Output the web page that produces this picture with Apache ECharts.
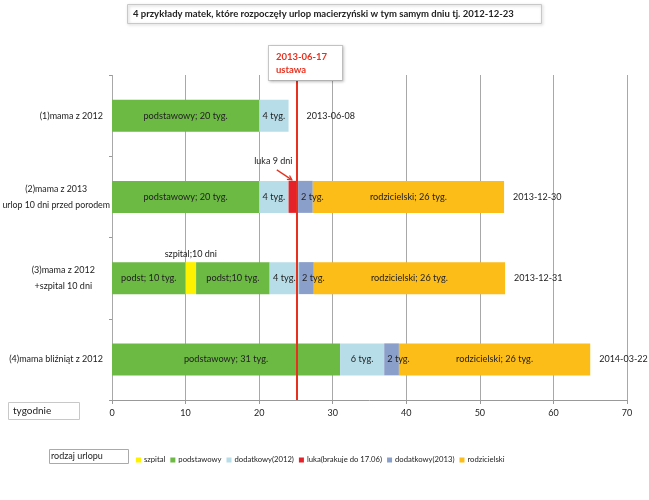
<!DOCTYPE html>
<html>
<head>
<meta charset="utf-8">
<script src="https://cdn.jsdelivr.net/npm/echarts@6/dist/echarts.min.js"></script>
<style>html,body{margin:0;padding:0;background:#fff;}#c{width:649px;height:500px;}</style>
</head>
<body>
<div id="c"></div>
<script>
const categories = ['(1)mama z 2012', '(2)mama z 2013\nurlop 10 dni przed porodem', '(3)mama z 2012\n+szpital 10 dni', '(4)mama bliźniąt z 2012'];
const podst1 = [20, 20, 10, 31];
const szpital = [0, 0, 1.43, 0];
const podst2 = [0, 0, 10, 0];
const dod2012 = [4, 4, 4, 6];
const luka = [0, 1.29, 0, 0];
const dod2013 = [0, 2, 2, 2];
const rodz = [0, 26, 26, 26];
const podst1Labels = ['podstawowy; 20 tyg.', 'podstawowy; 20 tyg.', 'podst; 10 tyg.', 'podstawowy; 31 tyg.'];
const podst2Labels = ['', '', 'podst;10 tyg.', ''];
const dod2012Labels = ['4 tyg.', '4 tyg.', '4 tyg.', '6 tyg.'];
const dod2013Labels = ['', '2 tyg.', '2 tyg.', '2 tyg.'];
const rodzLabels = ['', 'rodzicielski; 26 tyg.', 'rodzicielski; 26 tyg.', 'rodzicielski; 26 tyg.'];
const endDates = ['2013-06-08', '2013-12-30', '2013-12-31', '2014-03-22'];
const ustawaWeek = 25.14;

const FONT = 'Lato';
const TXT = '#222';
const C = {szpital:'#fff200', podst:'#6cb944', dod12:'#b7dde8', luka:'#e52229', dod13:'#8b9fcb', rodz:'#fdbd18'};
// right-side spacing and size of each category label block (presentation only)
const labelPadRight = [7, 0, 15, 7];
const labelSize = [9, 8.8, 9, 9];

const totals = categories.map((_, i) => podst1[i] + szpital[i] + podst2[i] + dod2012[i] + luka[i] + dod2013[i] + rodz[i]);

function barSeries(name, data, color, labels, extra) {
  return Object.assign({
    name: name, type: 'bar', stack: 'all', barWidth: 32, data: data,
    itemStyle: {color: color},
    label: {
      show: !!labels, position: 'inside', color: TXT, fontFamily: FONT, fontSize: 9.2,
      formatter: p => labels ? labels[p.dataIndex] : ''
    }
  }, extra || {});
}

const richStyles = {};
labelPadRight.forEach((pr, i) => {
  richStyles['c' + i] = {align: 'center', fontFamily: FONT, fontSize: labelSize[i], color: TXT, lineHeight: 16, padding: [0, pr, 0, 0]};
});

const chart = echarts.init(document.getElementById('c'));
const option = {
  animation: false,
  textStyle: {fontFamily: FONT},
  title: [
    {text: '4 przykłady matek, które rozpoczęły urlop macierzyński w tym samym dniu tj. 2012-12-23', left: 127, top: 4,
     padding: [5, 28, 5, 6], borderColor: '#c8c8c8', borderWidth: 1, shadowColor: 'rgba(0,0,0,0.25)', shadowBlur: 3, shadowOffsetX: 1, shadowOffsetY: 1,
     textStyle: {fontFamily: FONT, fontSize: 9.5, fontWeight: 'bold', color: TXT}},
    {text: 'tygodnie', left: 8, top: 402, padding: [4, 28, 4, 5], borderColor: '#c8c8c8', borderWidth: 1,
     textStyle: {fontFamily: FONT, fontSize: 10, fontWeight: 'normal', color: TXT}},
    {text: 'rodzaj urlopu', left: 49, top: 449, padding: [3, 26, 3, 2], borderColor: '#aaa', borderWidth: 1,
     textStyle: {fontFamily: FONT, fontSize: 9, fontWeight: 'normal', color: TXT}}
  ],
  legend: {
    data: ['szpital', 'podstawowy', 'dodatkowy(2012)', 'luka(brakuje do 17.06)', 'dodatkowy(2013)', 'rodzicielski'],
    left: 136, top: 456, padding: 0, itemWidth: 5, itemHeight: 5, itemGap: 5, icon: 'rect',
    textStyle: {fontFamily: FONT, fontSize: 7.7, color: TXT, padding: [0, 0, 0, -2]}
  },
  grid: {left: 112, right: 22, top: 75, bottom: 100, containLabel: false, outerBoundsMode: 'none'},
  xAxis: {
    type: 'value', min: 0, max: 70, interval: 10,
    axisLine: {show: true, lineStyle: {color: '#999'}},
    axisTick: {show: true, length: 4, lineStyle: {color: '#999'}},
    axisLabel: {color: TXT, fontFamily: FONT, fontSize: 9, margin: 9},
    splitLine: {show: true, lineStyle: {color: '#a8a8a8'}}
  },
  yAxis: {
    type: 'category', data: categories, inverse: true,
    axisLine: {show: false},
    axisTick: {show: true, length: 3, lineStyle: {color: '#999'}},
    axisLabel: {
      color: TXT, fontFamily: FONT, fontSize: 9, margin: 2, lineHeight: 16,
      formatter: (v, idx) => v.split('\n').map(s => '{c' + idx + '|' + s + '}').join('\n'),
      rich: richStyles
    }
  },
  series: [
    barSeries('podstawowy', podst1, C.podst, podst1Labels),
    barSeries('szpital', szpital, C.szpital, null, {
      label: {show: true, position: 'top', distance: 4, color: TXT, fontFamily: FONT, fontSize: 9,
        formatter: p => p.value > 0 ? 'szpital;10 dni' : ''}
    }),
    barSeries('podstawowy', podst2, C.podst, podst2Labels),
    barSeries('dodatkowy(2012)', dod2012, C.dod12, dod2012Labels),
    barSeries('luka(brakuje do 17.06)', luka, C.luka, null, {
      label: {show: true, position: 'top', distance: 15, offset: [-20, 0], color: TXT, fontFamily: FONT, fontSize: 9,
        formatter: p => p.value > 0 ? 'luka 9 dni' : ''}
    }),
    barSeries('dodatkowy(2013)', dod2013, C.dod13, dod2013Labels, {
      label: {show: true, position: 'insideLeft', distance: 3, color: TXT, fontFamily: FONT, fontSize: 9.2,
        formatter: p => dod2013Labels[p.dataIndex]}
    }),
    barSeries('rodzicielski', rodz, C.rodz, rodzLabels),
    {
      name: 'end', type: 'scatter', symbolSize: 0, silent: true,
      itemStyle: {opacity: 1},
      data: totals.map((t, i) => ({value: [t, i], label: {distance: i === 0 ? 18 : 9}})),
      label: {show: true, position: 'right', color: TXT, fontFamily: FONT, fontSize: 9,
        formatter: p => endDates[p.dataIndex]},
      markLine: {
        silent: true, symbol: 'none',
        lineStyle: {color: '#e8301e', width: 2, type: 'solid', opacity: 1},
        label: {
          show: true, position: 'start', formatter: '2013-06-17\nustawa',
          color: '#e8301e', fontWeight: 'bold', fontFamily: FONT, fontSize: 9.5, lineHeight: 13,
          backgroundColor: '#fff', borderColor: '#c8c8c8', borderWidth: 1,
          padding: [4, 15, 4, 7], align: 'left', offset: [-28, 5], distance: 0,
          shadowColor: 'rgba(0,0,0,0.2)', shadowBlur: 3, shadowOffsetX: 1, shadowOffsetY: 1
        },
        data: [{xAxis: ustawaWeek}]
      }
    }
  ]
};
chart.setOption(option);

// arrow for "luka 9 dni" annotation, anchored through the chart's scales
const lukaStart = podst1[1] + szpital[1] + podst2[1] + dod2012[1];
const pEnd = chart.convertToPixel({seriesIndex: 7}, [lukaStart + luka[1] * 0.35, 1]);
const pStart = chart.convertToPixel({seriesIndex: 7}, [lukaStart - 1.6, 1]);
const y1 = pEnd[1] - 27, y2 = pEnd[1] - 17;
const ang = Math.atan2(y2 - y1, pEnd[0] - pStart[0]);
const ah = 5;
chart.setOption({
  graphic: [
    {type: 'line', z: 100, shape: {x1: pStart[0], y1: y1, x2: pEnd[0], y2: y2}, style: {stroke: '#e8301e', lineWidth: 1.2}},
    {type: 'polyline', z: 100, shape: {points: [
      [pEnd[0] - ah * Math.cos(ang - 0.5), y2 - ah * Math.sin(ang - 0.5)],
      [pEnd[0], y2],
      [pEnd[0] - ah * Math.cos(ang + 0.5), y2 - ah * Math.sin(ang + 0.5)]
    ]}, style: {stroke: '#e8301e', lineWidth: 1.2, fill: 'none'}}
  ]
});
</script>
</body>
</html>
